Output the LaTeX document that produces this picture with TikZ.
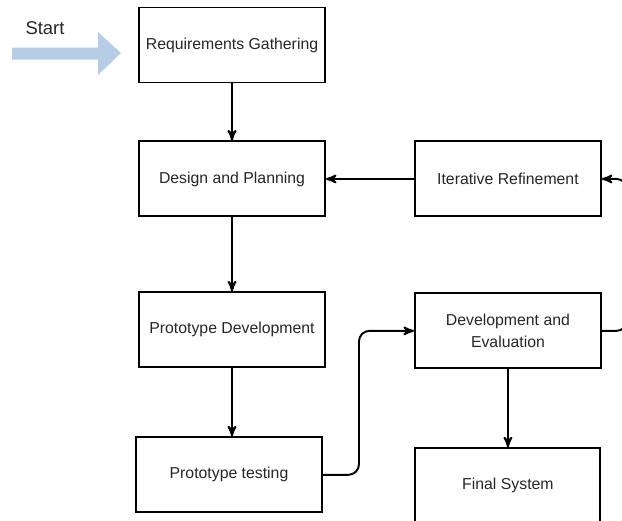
\documentclass[tikz,border=0pt]{standalone}
\usepackage{fontspec}
\setmainfont{Liberation Sans}
\usepackage{tikz}
\usetikzlibrary{arrows,positioning}

\definecolor{startblue}{RGB}{182,205,229}

\begin{document}
\begin{tikzpicture}[->,>=stealth',semithick,line width=1.1pt,
    phase/.style={rectangle,draw,line width=1.1pt,minimum width=3.72cm,minimum height=1.5cm,
                  align=center,font=\fontsize{9}{13}\selectfont,text=black!85}]
      \useasboundingbox (0,0) rectangle (12.44,-10.42);

      % start marker
      \fill[startblue] (0.24,-0.95) -- (1.96,-0.95) -- (1.96,-0.64) -- (2.42,-1.06)
            -- (1.96,-1.5) -- (1.96,-1.19) -- (0.24,-1.19) -- cycle;
      \node[font=\fontsize{10.5}{12}\selectfont,text=black!85] (start) at (0.9,-0.56) {Start};

      \node[phase]   (req)                          at (4.64,-0.9)  {Requirements Gathering};
      \node[phase]   (design)  [below=1.14cm of req]                {Design and Planning};
      \node[phase]   (iter)    [right=1.76cm of design]             {Iterative Refinement};
      \node[phase]   (proto)   [below=1.48cm of design]             {Prototype Development};
      \node[phase]   (test)    [below=1.36cm of proto,xshift=-0.06cm] {Prototype testing};
      \node[phase]   (deveval) [below=1.5cm of iter]                {Development and\\Evaluation};
      \node[phase,minimum width=3.7cm] (final) [below=1.56cm of deveval] {Final System};

      \draw (req) -- (design);
      \draw (iter) -- (design);
      \draw (design) -- (proto);
      \draw (proto) -- (proto.south |- test.north);
      \draw[rounded corners=6pt] (test.east) -- ++(0.72,0) |- (deveval.west);
      \draw (deveval) -- (final);
      \draw[rounded corners=6pt] (deveval.east) -- ++(0.5,0) |- (iter.east);
    \end{tikzpicture}
\end{document}
